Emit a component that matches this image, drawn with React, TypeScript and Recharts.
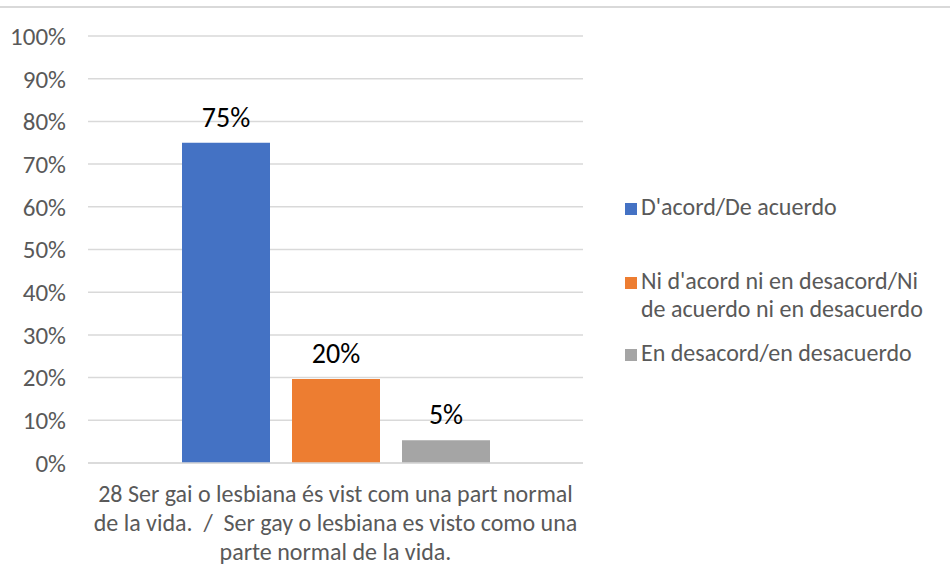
import React from 'react';
import { BarChart, Bar, XAxis, YAxis, CartesianGrid, LabelList } from 'recharts';

const categories = ['28 Ser gai o lesbiana és vist com una part normal de la vida.  /  Ser gay o lesbiana es visto como una parte normal de la vida.'];
const categoryLines = [
  '28 Ser gai o lesbiana és vist com una part normal',
  'de la vida.  /  Ser gay o lesbiana es visto como una',
  'parte normal de la vida.',
];
const seriesNames = ["D'acord/De acuerdo", "Ni d'acord ni en desacord/Ni de acuerdo ni en desacuerdo", 'En desacord/en desacuerdo'];
const legendLines = [["D'acord/De acuerdo"], ["Ni d'acord ni en desacord/Ni", 'de acuerdo ni en desacuerdo'], ['En desacord/en desacuerdo']];
const seriesColors = ['#4472C4', '#ED7D31', '#A5A5A5'];
const acord = [75];
const neutral = [19.7];
const desacord = [5.3];
const yTicks = [0, 10, 20, 30, 40, 50, 60, 70, 80, 90, 100];

const data = categories.map((c, i) => ({
  name: c,
  s0: acord[i],
  s1: neutral[i],
  s2: desacord[i],
}));

const FONT = "Carlito, 'Open Sans', 'Noto Sans', sans-serif";

function XTick({ x, y }: any) {
  return (
    <text x={x} y={y} textAnchor="middle" fontFamily={FONT} fontSize={24} fill="#595959" style={{ whiteSpace: 'pre' }}>
      {categoryLines.map((l, i) => (
        <tspan key={i} x={x} dy={i === 0 ? 31 : 29}>
          {l}
        </tspan>
      ))}
    </text>
  );
}

// legend drawn beside the plot, tops of each entry
const legendTops = [193, 267, 339];

function LegendBox() {
  return (
    <div style={{ position: 'absolute', left: 625, top: 0 }}>
      {legendLines.map((lines, i) => (
        <div key={i} style={{ position: 'absolute', left: 0, top: legendTops[i] }}>
          <div style={{ position: 'absolute', left: 0, top: 10, width: 12, height: 12, background: seriesColors[i] }} />
          <div style={{ marginLeft: 16, fontFamily: FONT, fontSize: 24, lineHeight: '28px', color: '#595959', whiteSpace: 'nowrap' }}>
            {lines.map((l, j) => (
              <div key={j}>{l}</div>
            ))}
          </div>
        </div>
      ))}
    </div>
  );
}

export default function App() {
  return (
    <div style={{ position: 'absolute', left: 0, top: 0, width: 950, height: 579, background: '#fff' }}>
      <div style={{ position: 'absolute', left: 0, top: 6, width: 950, height: 2, background: '#d9d9d9' }} />
      <BarChart
        width={950}
        height={579}
        data={data}
        margin={{ top: 36, right: 367, bottom: 16, left: 0 }}
        barSize={88}
        barGap={22}
      >
        <CartesianGrid vertical={false} stroke="#d9d9d9" strokeWidth={1.5} />
        <XAxis
          dataKey="name"
          height={100}
          axisLine={{ stroke: '#d9d9d9', strokeWidth: 1.5 }}
          tickLine={false}
          tick={<XTick />}
          interval={0}
        />
        <YAxis
          width={88}
          domain={[0, 100]}
          ticks={yTicks}
          axisLine={false}
          tickLine={false}
          tickFormatter={(v: number) => `${v}%`}
          tick={{ fontFamily: FONT, fontSize: 25, fill: '#595959', dx: -14 }}
        />
        {['s0', 's1', 's2'].map((k, i) => (
          <Bar key={k} dataKey={k} name={seriesNames[i]} fill={seriesColors[i]} isAnimationActive={false}>
            <LabelList
              dataKey={k}
              position="top"
              offset={16}
              formatter={(v: any) => `${Math.round(Number(v))}%`}
              style={{ fontFamily: FONT, fontSize: 28, fill: '#000' }}
            />
          </Bar>
        ))}
      </BarChart>
      <LegendBox />
    </div>
  );
}
